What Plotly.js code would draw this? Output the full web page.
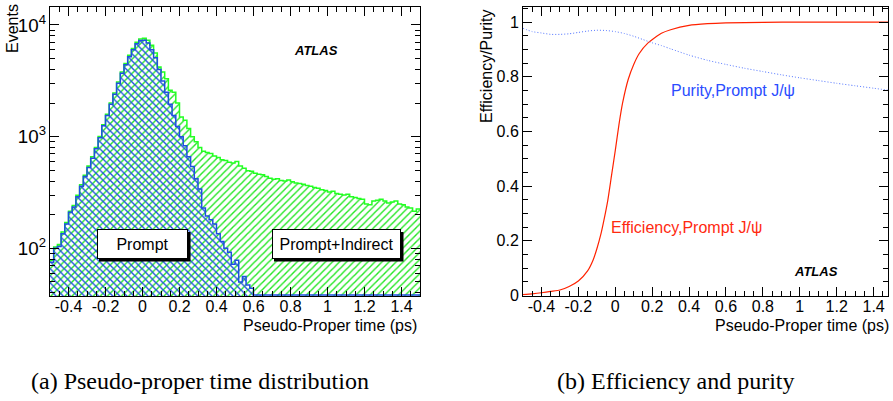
<!DOCTYPE html>
<html><head><meta charset="utf-8">
<script src="https://cdn.plot.ly/plotly-3.0.1.min.js"></script>
<style>body{margin:0;background:#fff}#c{width:893px;height:401px}</style>
</head><body><div id="c"></div>
<script>
// ---- data ----
const binStart = -0.5;
const binWidth = 0.02;
const promptCounts = [75,100,104,135,165,210,235,290,360,440,530,640,780,980,1250,1550,1950,2400,3000,3700,
 4400,5200,6000,6800,7250,7300,6900,6000,5100,4000,3150,2500,1950,1550,1230,1000,830,660,540,420,
 340,230,195,180,165,135,115,100,92,72,78,50,56,47,44,0,38,0,0,0,
 0,0,0,0,0,0,0,0,0,0,0,0,0,0,0,0,0,0,0,0,
 0,0,0,0,0,0,0,0,0,0,0,0,0,0,0,0,0,0,0,0];
const totalCounts = [78,103,108,140,170,215,242,298,370,452,545,660,800,1005,1280,1590,2000,2460,3080,3800,
 4520,5350,6170,7000,7500,7600,7300,6600,5600,4200,3800,3300,2600,2500,2000,1500,1400,1180,1000,900,
 800,740,720,705,670,650,620,610,590,580,600,545,520,495,490,470,460,455,440,425,
 415,420,405,400,410,395,385,380,375,365,360,350,345,335,330,320,325,310,305,300,
 305,290,285,280,275,250,245,265,270,275,265,255,260,265,250,245,235,230,215,225];

const effX = [-0.5,-0.45,-0.4,-0.35,-0.3,-0.25,-0.2,-0.15,-0.12,-0.1,-0.077,-0.06,-0.04,-0.02,0,0.02,0.04,0.07,0.1,0.13,0.175,0.25,0.3,0.4,0.5,0.6,0.8,1.0,1.5];
const effY = [0.003,0.006,0.01,0.015,0.02,0.033,0.053,0.09,0.13,0.17,0.227,0.28,0.35,0.44,0.53,0.625,0.705,0.79,0.845,0.885,0.922,0.959,0.972,0.988,0.994,0.997,0.999,1.0,1.0];
const purX = [-0.5,-0.45,-0.4,-0.35,-0.3,-0.25,-0.2,-0.15,-0.1,-0.05,0,0.05,0.1,0.15,0.2,0.25,0.3,0.4,0.5,0.6,0.7,0.8,0.9,1.0,1.1,1.2,1.3,1.4,1.5];
const purY = [0.977,0.965,0.96,0.955,0.955,0.957,0.962,0.967,0.97,0.969,0.965,0.958,0.948,0.936,0.924,0.914,0.902,0.879,0.86,0.845,0.831,0.819,0.807,0.796,0.786,0.776,0.767,0.758,0.749];

const xTickVals = [-0.4,-0.2,0,0.2,0.4,0.6,0.8,1,1.2,1.4];
const xTickText = ['-0.4','-0.2','0','0.2','0.4','0.6','0.8','1','1.2','1.4'];

// ---- derived ----
const W = 893, H = 401;
const px = x => x / W, py = y => 1 - y / H;
const yLogMin = 1.573, yLogMax = 4.161;
const floorVal = Math.pow(10, yLogMin) * 1.02;
const centers = promptCounts.map((_, i) => binStart + binWidth * (i + 0.5));
const edges = promptCounts.map((_, i) => binStart + binWidth * i).concat([binStart + binWidth * promptCounts.length]);
const stepY = arr => arr.concat([arr[arr.length - 1]]);

const green = '#22e622', blue = '#1f4fe0';
const traces = [
  {type:'bar', x:centers, y:totalCounts, width:binWidth, xaxis:'x', yaxis:'y',
   marker:{color:'rgba(0,0,0,0)', line:{width:0}, pattern:{shape:'/', fgcolor:green, bgcolor:'rgba(0,0,0,0)', size:5, solidity:0.28}}, hoverinfo:'skip'},
  {type:'bar', x:centers, y:promptCounts.map(v => v > 0 ? v : null), width:binWidth, xaxis:'x', yaxis:'y',
   marker:{color:'rgba(0,0,0,0)', line:{width:0}, pattern:{shape:'\\', fgcolor:blue, bgcolor:'rgba(0,0,0,0)', size:5, solidity:0.28}}, hoverinfo:'skip'},
  {type:'scatter', mode:'lines', x:edges, y:stepY(totalCounts), xaxis:'x', yaxis:'y',
   line:{shape:'hv', color:'#22ff22', width:1.5}},
  {type:'scatter', mode:'lines', x:edges, y:stepY(promptCounts.map(v => Math.max(v, floorVal))), xaxis:'x', yaxis:'y',
   line:{shape:'hv', color:blue, width:1.5}},
  {type:'scatter', mode:'lines', x:effX, y:effY, xaxis:'x2', yaxis:'y2',
   line:{shape:'spline', smoothing:0.6, color:'#ff2200', width:1.2}},
  {type:'scatter', mode:'lines', x:purX, y:purY, xaxis:'x2', yaxis:'y2',
   line:{shape:'spline', smoothing:0.6, color:'#5577ff', width:1, dash:'1px,2px'}}
];

const fontF = 'Liberation Sans, Arial, sans-serif';
const axCommon = {showline:true, linecolor:'black', linewidth:1, mirror:'allticks', ticks:'inside',
  ticklen:9, tickwidth:1, tickcolor:'black', showgrid:false, zeroline:false,
  tickfont:{family:fontF, size:16, color:'black'}, fixedrange:true};
const xMinor = {ticks:'inside', ticklen:5, tickcolor:'black', tickwidth:1, dtick:0.05, tick0:0, showgrid:false};

function ann(text, x, y, opts) {
  return Object.assign({text:text, xref:'paper', yref:'paper', x:px(x), y:py(y), xanchor:'center', yanchor:'middle',
    showarrow:false, font:{family:fontF, size:16, color:'black'}}, opts || {});
}

const layout = {
  width:W, height:H, margin:{l:0,r:0,t:0,b:0}, paper_bgcolor:'white', plot_bgcolor:'white',
  showlegend:false, barmode:'overlay', bargap:0,
  xaxis:Object.assign({}, axCommon, {domain:[px(50), px(420)], range:[-0.5,1.5], anchor:'y',
    tickmode:'array', tickvals:xTickVals, ticktext:xTickText, minor:xMinor, ticklabelstandoff:-4}),
  yaxis:Object.assign({}, axCommon, {domain:[py(296), py(7)], type:'log', range:[yLogMin, yLogMax], anchor:'x',
    dtick:1, exponentformat:'power', tickfont:{family:fontF, size:15, color:'black'},
    minor:{ticks:'inside', ticklen:5, tickcolor:'black', dtick:'D1', showgrid:false}}),
  xaxis2:Object.assign({}, axCommon, {domain:[px(523), px(888)], range:[-0.5,1.478], anchor:'y2',
    tickmode:'array', tickvals:xTickVals, ticktext:xTickText, minor:xMinor, ticklabelstandoff:-4}),
  yaxis2:Object.assign({}, axCommon, {domain:[py(295.5), py(7)], range:[0,1.055], anchor:'x2',
    dtick:0.2, tick0:0, minor:{ticks:'inside', ticklen:5, tickcolor:'black', dtick:0.05, tick0:0, showgrid:false}}),
  shapes:[
    {type:'rect', xref:'paper', yref:'paper', x0:px(99), x1:px(190.5), y0:py(232), y1:py(261.5), fillcolor:'black', line:{width:0}, layer:'above'},
    {type:'rect', xref:'paper', yref:'paper', x0:px(274), x1:px(403.5), y0:py(232), y1:py(261.5), fillcolor:'black', line:{width:0}, layer:'above'}
  ],
  annotations:[
    ann('Prompt', 96.7, 229, {xanchor:'left', yanchor:'top', width:89, height:28, borderpad:0, bgcolor:'white', bordercolor:'black', borderwidth:1}),
    ann('Prompt+Indirect', 271.7, 229, {xanchor:'left', yanchor:'top', width:127, height:28, borderpad:0, bgcolor:'white', bordercolor:'black', borderwidth:1}),
    ann('<b><i>ATLAS</i></b>', 316, 50, {font:{family:fontF, size:13, color:'black'}}),
    ann('<b><i>ATLAS</i></b>', 815.5, 271, {font:{family:fontF, size:13, color:'black'}}),
    ann('Purity,Prompt J/ψ', 669, 90, {xanchor:'left', font:{family:fontF, size:16, color:'#2a4dff'}}),
    ann('Efficiency,Prompt J/ψ', 609, 227, {xanchor:'left', font:{family:fontF, size:16, color:'#ff2a10'}}),
    ann('Events', 12, 29, {textangle:-90}),
    ann('Efficiency/Purity', 487, 66, {textangle:-90}),
    ann('Pseudo-Proper time (ps)', 419, 325, {xanchor:'right'}),
    ann('Pseudo-Proper time (ps)', 891, 325, {xanchor:'right'}),
    ann('(a) Pseudo-proper time distribution', 200, 381, {font:{family:'Liberation Serif, serif', size:24, color:'black'}}),
    ann('(b) Efficiency and purity', 675, 381, {font:{family:'Liberation Serif, serif', size:24, color:'black'}})
  ]
};
Plotly.newPlot('c', traces, layout, {staticPlot:true, displayModeBar:false});
</script></body></html>
